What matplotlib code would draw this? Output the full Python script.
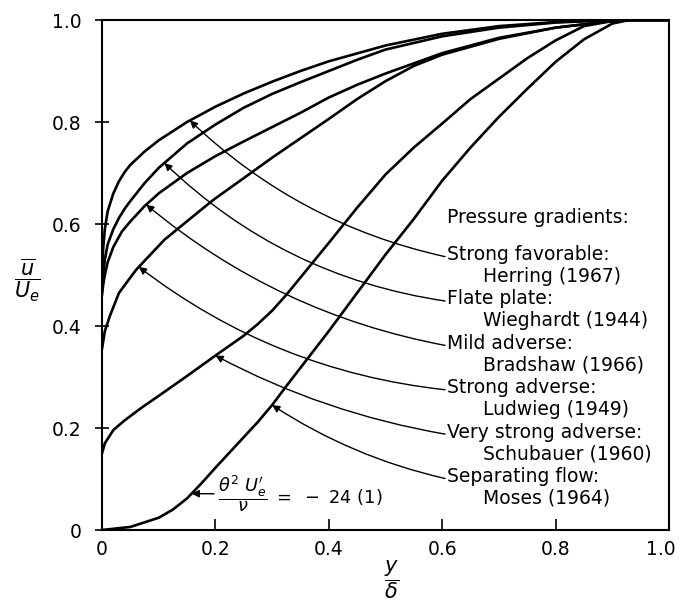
import numpy as np
import matplotlib
matplotlib.use('Agg')
import matplotlib.pyplot as plt
from matplotlib.transforms import ScaledTranslation

plt.rcParams['font.family'] = ['DejaVu Sans']
plt.rcParams['mathtext.fontset'] = 'dejavusans'

# ---- data (y/delta, u/Ue) ----
x_herring = [0, 0.002, 0.005, 0.01, 0.02, 0.03, 0.04, 0.05, 0.075, 0.1, 0.15, 0.2, 0.25,
             0.3, 0.35, 0.4, 0.5, 0.6, 0.7, 0.8, 0.9, 0.95, 1.0]
y_herring = [0.48, 0.55, 0.59, 0.625, 0.66, 0.684, 0.702, 0.716, 0.742, 0.764, 0.80, 0.83, 0.856,
             0.879, 0.90, 0.919, 0.95, 0.973, 0.988, 0.996, 1.0, 1.0, 1.0]

x_wieghardt = [0, 0.002, 0.005, 0.01, 0.02, 0.03, 0.04, 0.05, 0.075, 0.1, 0.15, 0.2, 0.25,
               0.3, 0.35, 0.4, 0.45, 0.5, 0.6, 0.7, 0.8, 0.9, 0.95, 1.0]
y_wieghardt = [0.47, 0.50, 0.53, 0.56, 0.59, 0.612, 0.63, 0.645, 0.68, 0.71, 0.758, 0.795, 0.828,
               0.855, 0.878, 0.90, 0.922, 0.942, 0.968, 0.985, 0.995, 1.0, 1.0, 1.0]

x_bradshaw = [0, 0.002, 0.005, 0.01, 0.02, 0.035, 0.05, 0.075, 0.1, 0.15, 0.2, 0.25,
              0.3, 0.35, 0.4, 0.45, 0.5, 0.55, 0.6, 0.7, 0.8, 0.9, 0.93, 1.0]
y_bradshaw = [0.46, 0.48, 0.50, 0.525, 0.555, 0.585, 0.605, 0.635, 0.66, 0.70, 0.733, 0.762,
              0.79, 0.818, 0.848, 0.873, 0.895, 0.915, 0.935, 0.965, 0.985, 0.998, 1.0, 1.0]

x_ludwieg = [0, 0.005, 0.014, 0.03, 0.06, 0.11, 0.144, 0.196, 0.25, 0.3, 0.35, 0.4,
             0.45, 0.5, 0.55, 0.6, 0.7, 0.8, 0.9, 0.93, 1.0]
y_ludwieg = [0.355, 0.39, 0.42, 0.465, 0.51, 0.569, 0.60, 0.647, 0.69, 0.73, 0.768, 0.806,
             0.845, 0.88, 0.91, 0.932, 0.963, 0.985, 0.998, 1.0, 1.0]

x_schubauer = [0, 0.005, 0.02, 0.04, 0.07, 0.1, 0.15, 0.2, 0.25, 0.275, 0.3, 0.325, 0.35,
               0.4, 0.45, 0.5, 0.55, 0.6, 0.65, 0.7, 0.75, 0.8, 0.85, 0.9, 0.93, 1.0]
y_schubauer = [0.15, 0.17, 0.196, 0.215, 0.24, 0.263, 0.302, 0.342, 0.381, 0.404, 0.43, 0.461,
               0.495, 0.563, 0.632, 0.697, 0.75, 0.797, 0.845, 0.885, 0.925, 0.96, 0.988,
               0.998, 1.0, 1.0]

x_moses = [0, 0.05, 0.1, 0.125, 0.15, 0.175, 0.2, 0.25, 0.275, 0.3, 0.325, 0.35, 0.4, 0.45,
           0.5, 0.55, 0.6, 0.65, 0.7, 0.75, 0.8, 0.85, 0.9, 0.93, 1.0]
y_moses = [0, 0.006, 0.024, 0.04, 0.062, 0.091, 0.122, 0.182, 0.212, 0.245, 0.282, 0.318,
           0.39, 0.465, 0.54, 0.61, 0.685, 0.75, 0.81, 0.865, 0.918, 0.962, 0.993, 1.0, 1.0]

headers = ["Strong favorable:", "Flate plate:", "Mild adverse:", "Strong adverse:",
           "Very strong adverse:", "Separating flow:"]
sources = ["Herring (1967)", "Wieghardt (1944)", "Bradshaw (1966)", "Ludwieg (1949)",
           "Schubauer (1960)", "Moses (1964)"]
legend_title = "Pressure gradients:"

xticks = [0, 0.2, 0.4, 0.6, 0.8, 1.0]
xtick_labels = ["0", "0.2", "0.4", "0.6", "0.8", "1.0"]
yticks = [0, 0.2, 0.4, 0.6, 0.8, 1.0]
ytick_labels = ["0", "0.2", "0.4", "0.6", "0.8", "1.0"]

curves = [(x_herring, y_herring), (x_wieghardt, y_wieghardt), (x_bradshaw, y_bradshaw),
          (x_ludwieg, y_ludwieg), (x_schubauer, y_schubauer), (x_moses, y_moses)]

# where each leader arrow touches its curve (x position) and leader curvature
arrow_x = [0.155, 0.11, 0.078, 0.065, 0.2, 0.3]
arrow_rad = [-0.14, -0.16, -0.13, -0.14, -0.08, -0.09]

# ---- figure ----
W, H = 682, 609
fig = plt.figure(figsize=(W / 100, H / 100), dpi=100)
ax = fig.add_axes([102 / W, 1 - 530 / H, 567 / W, 510 / H])
ax.set_xlim(0, 1)
ax.set_ylim(0, 1)

for xs, ys in curves:
    ax.plot(xs, ys, color='black', lw=1.9, solid_capstyle='round', solid_joinstyle='round')

for s in ax.spines.values():
    s.set_linewidth(1.5)

ax.set_xticks(xticks)
ax.set_xticklabels(xtick_labels)
ax.set_yticks(yticks)
ax.set_yticklabels(ytick_labels)
ax.tick_params(axis='x', direction='in', length=8, width=1.2, pad=7, labelsize=13.5)
ax.tick_params(axis='y', direction='inout', length=10, width=1.2, pad=10, labelsize=13.5)
last = ax.get_xticklabels()[-1]
last.set_transform(last.get_transform() + ScaledTranslation(-6 / 72, 0, fig.dpi_scale_trans))

# labels block
fs = 13.5
hx, sx = 0.609, 0.672
ax.text(hx, 0.612, legend_title, fontsize=fs, ha='left', va='center')
for k, (hd, src) in enumerate(zip(headers, sources)):
    hy = 0.540 - k * 0.087
    ax.text(hx, hy, hd, fontsize=fs, ha='left', va='center')
    ax.text(sx, hy - 0.043, src, fontsize=fs, ha='left', va='center')
    xs, ys = curves[k]
    xa = arrow_x[k]
    ya = float(np.interp(xa, xs, ys))
    ax.annotate('', xy=(xa, ya), xytext=(0.605, hy - 0.004),
                arrowprops=dict(arrowstyle='-|>', color='black', lw=1.0,
                                shrinkA=0, shrinkB=0, mutation_scale=11,
                                connectionstyle=f'arc3,rad={arrow_rad[k]}'))

# annotation on separating-flow curve
xa6 = 0.158
ya6 = float(np.interp(xa6, x_moses, y_moses))
ax.annotate(r'$\dfrac{\theta^2\ U_e^{\prime}}{\nu}\ =\ -\ 24\ (1)$', xy=(xa6, ya6),
            xytext=(0.205, 0.071), fontsize=12.8, ha='left', va='center',
            arrowprops=dict(arrowstyle='-|>', color='black', lw=1.0, shrinkA=1, shrinkB=0,
                            mutation_scale=11, relpos=(0, 0.5)))

# axis labels as fractions
fig.text(27 / W, 1 - 280 / H, r'$\dfrac{\overline{u}}{U_e}$', fontsize=15,
         ha='center', va='center')
fig.text(392 / W, 1 - 580 / H, r'$\dfrac{y}{\delta}$', fontsize=15,
         ha='center', va='center')

fig.savefig('out.png', dpi=100)
